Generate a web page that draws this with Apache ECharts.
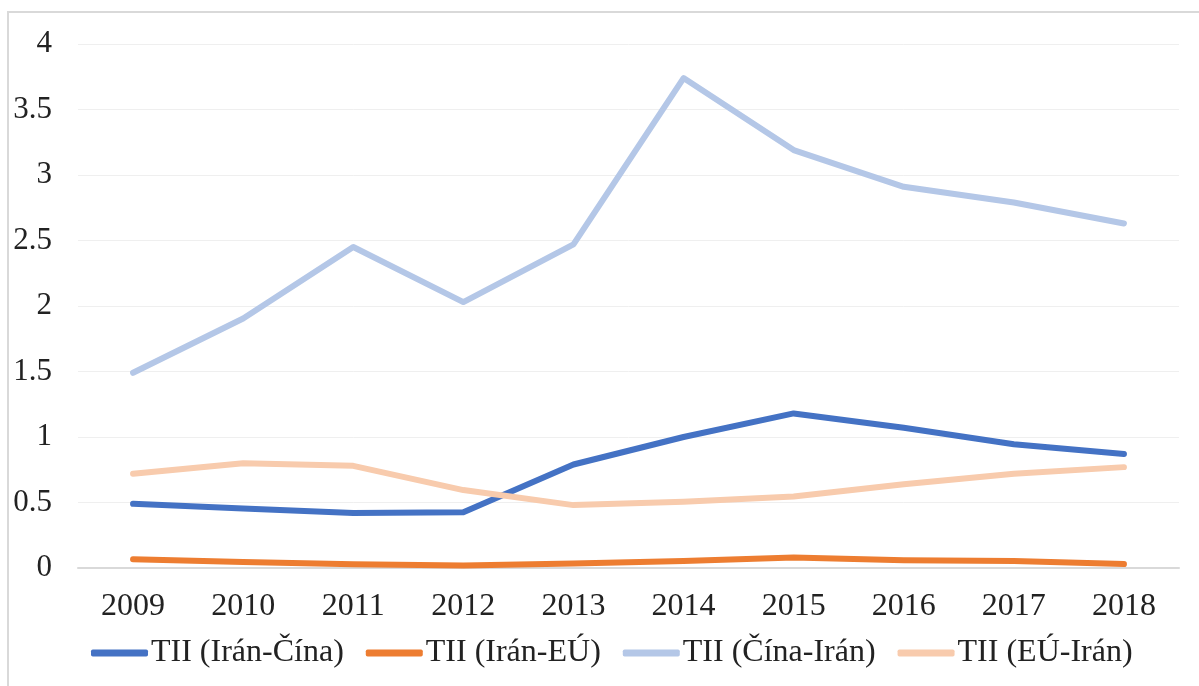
<!DOCTYPE html>
<html>
<head>
<meta charset="utf-8">
<script src="https://cdn.jsdelivr.net/npm/echarts@6/dist/echarts.min.js"></script>
<style>
  html, body { margin: 0; padding: 0; background: #fff; overflow: hidden; }
  #chart { position: absolute; left: 0; top: 0; width: 1199px; height: 686px; }
  .frame { position: absolute; left: 7px; top: 11px; width: 1400px; height: 900px; border: 2px solid #d9d9d9; box-sizing: border-box; pointer-events: none; }
</style>
</head>
<body>
<div class="frame"></div>
<div id="chart"></div>
<script>
const years = ['2009', '2010', '2011', '2012', '2013', '2014', '2015', '2016', '2017', '2018'];
const iranCina = [0.49, 0.455, 0.42, 0.425, 0.79, 1.0, 1.18, 1.07, 0.945, 0.87];
const iranEu = [0.067, 0.046, 0.028, 0.02, 0.035, 0.054, 0.08, 0.06, 0.054, 0.03];
const cinaIran = [1.49, 1.905, 2.45, 2.03, 2.47, 3.74, 3.19, 2.91, 2.79, 2.63];
const euIran = [0.72, 0.80, 0.78, 0.595, 0.48, 0.505, 0.545, 0.64, 0.72, 0.77];
const seriesNames = ['TII (Irán-Čína)', 'TII (Irán-EÚ)', 'TII (Čína-Irán)', 'TII (EÚ-Irán)'];
const colors = ['#4472C4', '#ED7D31', '#B4C7E7', '#F8CBAD'];

const font = "'Liberation Serif', 'Times New Roman', serif";
const myChart = echarts.init(document.getElementById('chart'));

function lineSeries(name, data) {
  return {
    name: name,
    type: 'line',
    data: data,
    showSymbol: false,
    symbol: 'none',
    smooth: false,
    lineStyle: { width: 6, cap: 'round', join: 'round' }
  };
}

const options = {
  color: colors,
  animation: false,
  grid: { left: 78, right: 20, top: 44, bottom: 118 },
  legend: {
    data: seriesNames,
    bottom: 12,
    left: 86,
    icon: 'roundRect',
    itemWidth: 57,
    itemHeight: 7,
    itemGap: 22,
    textStyle: { fontFamily: font, fontSize: 32, color: '#222', padding: [0, 0, 0, -2] }
  },
  xAxis: {
    type: 'category',
    data: years,
    boundaryGap: true,
    axisLine: { show: true, lineStyle: { color: '#d9d9d9', width: 2 } },
    axisTick: { show: false },
    axisLabel: { fontFamily: font, fontSize: 32, color: '#222', margin: 23 }
  },
  yAxis: {
    type: 'value',
    min: 0,
    max: 4,
    interval: 0.5,
    axisLine: { show: false },
    axisTick: { show: false },
    splitLine: { lineStyle: { color: '#efefef', width: 1 } },
    axisLabel: { fontFamily: font, fontSize: 31, color: '#222', margin: 26 }
  },
  series: [
    lineSeries(seriesNames[0], iranCina),
    lineSeries(seriesNames[1], iranEu),
    lineSeries(seriesNames[2], cinaIran),
    lineSeries(seriesNames[3], euIran)
  ]
};
myChart.setOption(options);
</script>
</body>
</html>
